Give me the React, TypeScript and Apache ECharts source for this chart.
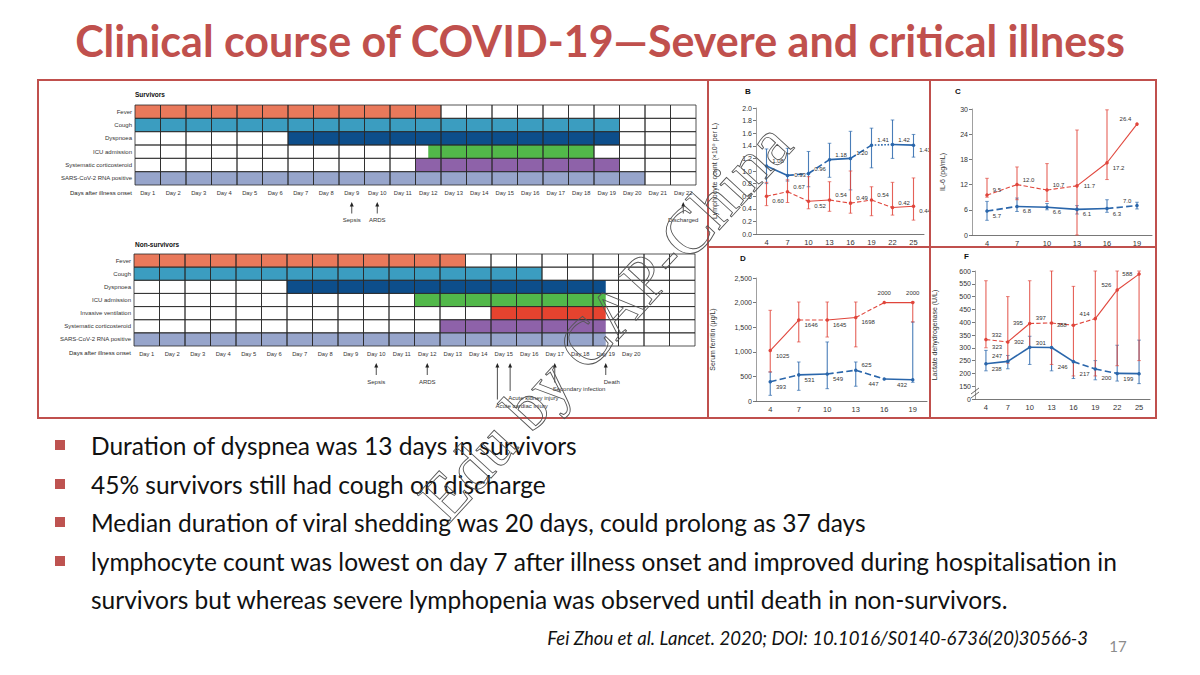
import React, { useEffect, useRef } from "react";
import * as echarts from "echarts";

// ---------------- Gantt data ----------------
const survivorRows = ["Fever", "Cough", "Dyspnoea", "ICU admission", "Systematic corticosteroid", "SARS-CoV-2 RNA positive"];
const survivorStart = [0, 0, 6, 11.5, 11, 0];
const survivorEnd = [12, 19, 19, 18, 19, 20];
const survivorDays = ["Day 1", "Day 2", "Day 3", "Day 4", "Day 5", "Day 6", "Day 7", "Day 8", "Day 9", "Day 10", "Day 11", "Day 12", "Day 13", "Day 14", "Day 15", "Day 16", "Day 17", "Day 18", "Day 19", "Day 20", "Day 21", "Day 22"];
const survivorEventLabels = ["Sepsis", "ARDS", "Discharged"];
const survivorEventDays = [9, 10, 22];

const nonSurvivorRows = ["Fever", "Cough", "Dyspnoea", "ICU admission", "Invasive ventilation", "Systematic corticosteroid", "SARS-CoV-2 RNA positive"];
const nonSurvivorStart = [0, 0, 6, 11, 14, 12, 0];
const nonSurvivorEnd = [13, 16, 18.5, 18.5, 18.5, 18.5, 18.5];
const nonSurvivorDays = ["Day 1", "Day 2", "Day 3", "Day 4", "Day 5", "Day 6", "Day 7", "Day 8", "Day 9", "Day 10", "Day 11", "Day 12", "Day 13", "Day 14", "Day 15", "Day 16", "Day 17", "Day 18", "Day 19", "Day 20", "", ""];
const nonSurvivorEventLabels = ["Sepsis", "ARDS", "Acute cardiac injury", "Acute kidney injury", "Secondary infection", "Death"];
const nonSurvivorEventDays = [10, 12, 14.75, 15.25, 17, 19];

// ---------------- Panel data ----------------
const lymphDays = ["4", "7", "10", "13", "16", "19", "22", "25"];
const lymphSurv = [1.08, 0.93, 0.96, 1.18, 1.2, 1.41, 1.42, 1.41];
const lymphSurvLow = [0.8, 0.84, 0.75, 0.9, 0.7, 1.05, 1.2, 1.22];
const lymphSurvHigh = [1.35, 1.36, 1.31, 1.44, 1.63, 1.68, 1.81, 1.58];
const lymphNon = [0.6, 0.67, 0.52, 0.54, 0.49, 0.54, 0.42, 0.44];
const lymphNonLow = [0.45, 0.5, 0.4, 0.36, 0.33, 0.29, 0.3, 0.22];
const lymphNonHigh = [0.82, 0.86, 0.91, 0.83, 1.0, 0.75, 0.82, 0.89];

const il6Days = ["4", "7", "10", "13", "16", "19"];
const il6Surv = [5.7, 6.8, 6.6, 6.1, 6.3, 7.0];
const il6SurvLow = [3.5, 5.6, 6.0, 5.0, 5.4, 6.2];
const il6SurvHigh = [8.0, 8.8, 7.5, 7.0, 8.4, 7.8];
const il6Non = [9.5, 12.0, 10.7, 11.7, 17.2, 26.4];
const il6NonLow = [9.0, 8.4, 8.0, 0, 13.2, null];
const il6NonHigh = [13.5, 16.2, 17.0, 25.0, 29.8, null];

const ferritinDays = ["4", "7", "10", "13", "16", "19"];
const ferritinSurv = [393, 531, 549, 625, 447, 432];
const ferritinSurvLow = [115, 217, 250, 300, null, 380];
const ferritinSurvHigh = [590, 793, 1200, 793, null, 1606];
const ferritinNon = [1025, 1646, 1645, 1698, 2000, 2000];
const ferritinNonLow = [590, 1200, 1300, 1100, null, 1606];
const ferritinNonHigh = [1843, 2012, 2012, 2012, null, 2012];

const ldhDays = ["4", "7", "10", "13", "16", "19", "22", "25"];
const ldhSurv = [238, 247, 302, 301, 246, 217, 200, 199];
const ldhSurvLow = [210, 218, 235, 210, 180, 175, 170, 160];
const ldhSurvHigh = [290, 270, 345, 300, 245, 250, 310, 330];
const ldhNon = [332, 323, 395, 397, 388, 414, 526, 588];
const ldhNonLow = [300, 240, 300, 235, 190, 190, 230, 250];
const ldhNonHigh = [562, 500, 562, 600, 540, 600, 600, 600];

// ---------------- Styles / layout (not data) ----------------
const rowColors: Record<string, string> = {
  "Fever": "#E9795B",
  "Cough": "#3B9DC0",
  "Dyspnoea": "#0D4E8B",
  "ICU admission": "#52B84A",
  "Invasive ventilation": "#E5432F",
  "Systematic corticosteroid": "#8E62A9",
  "SARS-CoV-2 RNA positive": "#97A5CB",
};
const survivorEventDepth = [18, 18, 18];
const survivorEventAlign = ["center", "center", "center"];
const nonSurvivorEventDepth = [18.5, 18.5, 43, 34.5, 26, 18.5];
const nonSurvivorEventAlign = ["center", "center", "left", "left", "left", "left"];

const BLUE = "#2A66AB";
const RED = "#E0453B";
const FRAME = "#C0504D";
const TXT = "'Liberation Sans', Arial, sans-serif";
const SLIDE = "Lato, 'Open Sans', sans-serif";

const lymphSurvSeg = ["solid", "dashed", "dashed", "solid", "dashed", "dotted", "solid"];
const lymphNonSeg = ["dashed", "dashed", "solid", "dashed", "dashed", "dashed", "solid"];
const lymphSurvLab = ["ru", "r", "ru", "ru", "ru", "ru", "ru", "rd"];
const lymphNonLab = ["rd", "ru", "rd", "ru", "ru", "ru", "ru", "rd"];
const il6SurvSeg = ["dashed", "solid", "solid", "solid", "dashed"];
const il6NonSeg = ["dashed", "dashed", "dashed", "solid", "solid"];
const il6SurvLab = ["rd", "rd", "rd", "rd", "rd", "lu"];
const il6NonLab = ["ru", "ru", "ru", "r", "rd", "lu"];
const ferSurvSeg = ["dashed", "solid", "dashed", "dashed", "solid"];
const ferNonSeg = ["solid", "dashed", "solid", "dashed", "solid"];
const ferSurvLab = ["rd", "rd", "rd", "ru", "ld", "ld"];
const ferNonLab = ["rd", "rd", "rd", "rd", "u", "u"];
const ldhSurvSeg = ["solid", "solid", "solid", "solid", "dashed", "dashed", "solid"];
const ldhNonSeg = ["dashed", "solid", "dashed", "dashed", "dashed", "solid", "solid"];
const ldhSurvLab = ["rd", "lu", "lu", "lu", "ld", "ld", "ld", "ld"];
const ldhNonLab = ["ru", "ld", "l", "lu", "l", "lu", "lu", "l"];

function labelPlace(code: string) {
  switch (code) {
    case "ru": return { position: "right", offset: [-1, -5] };
    case "rd": return { position: "right", offset: [-1, 5] };
    case "lu": return { position: "left", offset: [1, -5] };
    case "ld": return { position: "left", offset: [1, 5] };
    case "u": return { position: "top", offset: [0, 0] };
    case "d": return { position: "bottom", offset: [0, 0] };
    case "l": return { position: "left", offset: [0, 0] };
    default: return { position: "right", offset: [0, 0] };
  }
}

function ganttGeom(api: any) {
  const c0 = api.coord([0, 0]);
  const sz = api.size([1, 1]);
  return { x0: c0[0] - sz[0] / 2, y0: c0[1] - sz[1] / 2, w: sz[0], h: sz[1] };
}

function buildGantt(gi: number, rows: string[], starts: number[], ends: number[], days: string[],
  evDays: number[], evLabels: string[], evDepth: number[], evAlign: string[]) {
  const nCols = days.length;
  const bars = {
    type: "custom", xAxisIndex: gi, yAxisIndex: gi, z: 2, silent: true,
    data: rows.map((_, i) => [0, i]),
    renderItem: (params: any, api: any) => {
      const g = ganttGeom(api);
      const i = params.dataIndex;
      return {
        type: "rect",
        shape: { x: g.x0 + starts[i] * g.w, y: g.y0 + i * g.h, width: (ends[i] - starts[i]) * g.w, height: g.h },
        style: { fill: rowColors[rows[i]] },
      };
    },
  };
  const cells = {
    type: "custom", xAxisIndex: gi, yAxisIndex: gi, z: 3, silent: true,
    data: rows.map((_, i) => [0, i]),
    renderItem: (params: any, api: any) => {
      const g = ganttGeom(api);
      const i = params.dataIndex;
      const children: any[] = [];
      for (let k = 0; k < nCols; k++) {
        children.push({
          type: "rect",
          shape: { x: g.x0 + k * g.w, y: g.y0 + i * g.h, width: g.w, height: g.h },
          style: { fill: "none", stroke: "#2a2a2a", lineWidth: 0.8 },
        });
      }
      return { type: "group", children };
    },
  };
  const events = {
    type: "custom", xAxisIndex: gi, yAxisIndex: gi, z: 4, silent: true, clip: false,
    data: evDays.map(() => [0, 0]),
    renderItem: (params: any, api: any) => {
      const g = ganttGeom(api);
      const i = params.dataIndex;
      const xc = g.x0 + (evDays[i] - 0.5) * g.w;
      const bottom = g.y0 + rows.length * g.h;
      const tip = bottom + 17;
      const labelY = tip + evDepth[i];
      const tail = labelY - 6.5;
      const al = evAlign[i];
      return {
        type: "group",
        children: [
          { type: "line", shape: { x1: xc, y1: tip + 3, x2: xc, y2: tail }, style: { stroke: "#222", lineWidth: 0.8 } },
          { type: "polygon", shape: { points: [[xc, tip], [xc - 2, tip + 4.5], [xc + 2, tip + 4.5]] }, style: { fill: "#222" } },
          {
            type: "text", x: al === "left" ? xc - 2 : xc, y: labelY,
            style: { text: evLabels[i], fill: "#333", fontSize: 6, fontFamily: TXT, align: al, verticalAlign: "middle", textAlign: al, textVerticalAlign: "middle" },
          },
        ],
      };
    },
  };
  return [bars, cells, events];
}

function buildPanel(gi: number, groups: any[], fmt: (v: number) => string) {
  const out: any[] = [];
  groups.forEach((gr) => {
    const n = gr.values.length;
    out.push({
      type: "custom", xAxisIndex: gi, yAxisIndex: gi, z: 1, silent: true,
      encode: { x: 0, y: [1, 2] },
      data: gr.low.map((l: any, j: number) => [j, l, gr.high[j]]).filter((d: any) => d[1] != null && d[2] != null),
      renderItem: (params: any, api: any) => {
        const j = api.value(0);
        const p1 = api.coord([j, api.value(1)]);
        const p2 = api.coord([j, api.value(2)]);
        const cw = 1.8;
        return {
          type: "group",
          children: [
            { type: "line", shape: { x1: p1[0], y1: p1[1], x2: p2[0], y2: p2[1] }, style: { stroke: gr.color, lineWidth: 1.1, opacity: 0.85 } },
            { type: "line", shape: { x1: p1[0] - cw, y1: p1[1], x2: p1[0] + cw, y2: p1[1] }, style: { stroke: gr.color, lineWidth: 0.8, opacity: 0.85 } },
            { type: "line", shape: { x1: p2[0] - cw, y1: p2[1], x2: p2[0] + cw, y2: p2[1] }, style: { stroke: gr.color, lineWidth: 0.8, opacity: 0.85 } },
          ],
        };
      },
    });
    for (let i = 0; i < n - 1; i++) {
      out.push({
        type: "line", xAxisIndex: gi, yAxisIndex: gi, z: 2, silent: true, showSymbol: false, connectNulls: false,
        data: gr.values.map((v: number, j: number) => (j === i || j === i + 1 ? v : null)),
        lineStyle: { color: gr.color, width: gr.width, type: gr.seg[i] },
      });
    }
    out.push({
      type: "line", xAxisIndex: gi, yAxisIndex: gi, z: 3, silent: true,
      symbol: "circle", symbolSize: 3.5, itemStyle: { color: gr.color },
      lineStyle: { width: 0, opacity: 0 },
      data: gr.values.map((v: number, j: number) => ({ value: v, label: labelPlace(gr.lab[j]) })),
      label: { show: true, fontSize: 6, color: "#333", fontFamily: TXT, formatter: (p: any) => fmt(p.value) },
    });
  });
  return out;
}

function panelAxes(gi: number, cats: string[], min: number, max: number, interval: number, name: string, nameGap: number, labelFmt?: (v: number) => string) {
  const x = {
    type: "category", gridIndex: gi, data: cats, boundaryGap: true,
    axisLine: { lineStyle: { color: "#555", width: 0.8 } },
    axisTick: { alignWithLabel: true, length: 3, lineStyle: { color: "#555", width: 0.8 } },
    axisLabel: { fontSize: 7.5, color: "#333", margin: 4, fontFamily: TXT },
  };
  const y = {
    type: "value", gridIndex: gi, min, max, interval,
    axisLine: { show: true, lineStyle: { color: "#777", width: 0.7 } },
    axisTick: { show: true, length: 3, lineStyle: { color: "#555", width: 0.8 } },
    splitLine: { show: false },
    axisLabel: { fontSize: 7, color: "#333", margin: 4, fontFamily: TXT, formatter: labelFmt },
    name, nameLocation: "middle", nameGap, nameRotate: 90,
    nameTextStyle: { fontSize: 7, color: "#333", fontFamily: TXT },
  };
  return { x, y };
}

function ganttAxes(gi: number, rows: string[], days: string[]) {
  const x = {
    type: "category", gridIndex: gi, data: days, boundaryGap: true,
    axisLine: { show: false }, axisTick: { show: false },
    axisLabel: { fontSize: 5.8, color: "#333", margin: 5, interval: 0, fontFamily: TXT },
  };
  const y = {
    type: "category", gridIndex: gi, data: rows, inverse: true,
    axisLine: { show: false }, axisTick: { show: false },
    axisLabel: { fontSize: 6, color: "#333", margin: 3, fontFamily: TXT },
  };
  return { x, y };
}

const bullets = [
  "Duration of dyspnea was 13 days in survivors",
  "45% survivors still had cough on discharge",
  "Median duration of viral shedding was 20 days, could prolong as 37 days",
  "lymphocyte count was lowest on day 7 after illness onset and improved during hospitalisation in",
];
const bulletContinuation = "survivors but whereas severe lymphopenia was observed until death in non-survivors.";

export default function App() {
  const ref = useRef<HTMLDivElement>(null);
  useEffect(() => {
    if (!ref.current) return;
    const chart = echarts.init(ref.current, undefined, { renderer: "svg" });

    const gS = ganttAxes(0, survivorRows, survivorDays);
    const gN = ganttAxes(1, nonSurvivorRows, nonSurvivorDays);
    const pB = panelAxes(2, lymphDays, 0, 2, 0.2, "Lymphocyte count (×10⁹ per L)", 38, (v) => v.toFixed(1));
    const pC = panelAxes(3, il6Days, 0, 30, 6, "IL-6 (pg/mL)", 26);
    const pD = panelAxes(4, ferritinDays, 0, 2500, 500, "Serum ferritin (μg/L)", 40);
    const pF = panelAxes(5, ldhDays, 100, 600, 50, "Lactate dehydrogenase (U/L)", 37, (v) => (v === 100 ? "0" : String(v)));

    const series: any[] = [
      ...buildGantt(0, survivorRows, survivorStart, survivorEnd, survivorDays, survivorEventDays, survivorEventLabels, survivorEventDepth, survivorEventAlign),
      ...buildGantt(1, nonSurvivorRows, nonSurvivorStart, nonSurvivorEnd, nonSurvivorDays, nonSurvivorEventDays, nonSurvivorEventLabels, nonSurvivorEventDepth, nonSurvivorEventAlign),
      ...buildPanel(2, [
        { values: lymphSurv, low: lymphSurvLow, high: lymphSurvHigh, seg: lymphSurvSeg, lab: lymphSurvLab, color: BLUE, width: 1.6 },
        { values: lymphNon, low: lymphNonLow, high: lymphNonHigh, seg: lymphNonSeg, lab: lymphNonLab, color: RED, width: 1.1 },
      ], (v) => v.toFixed(2)),
      ...buildPanel(3, [
        { values: il6Surv, low: il6SurvLow, high: il6SurvHigh, seg: il6SurvSeg, lab: il6SurvLab, color: BLUE, width: 1.6 },
        { values: il6Non, low: il6NonLow, high: il6NonHigh, seg: il6NonSeg, lab: il6NonLab, color: RED, width: 1.1 },
      ], (v) => v.toFixed(1)),
      ...buildPanel(4, [
        { values: ferritinSurv, low: ferritinSurvLow, high: ferritinSurvHigh, seg: ferSurvSeg, lab: ferSurvLab, color: BLUE, width: 1.6 },
        { values: ferritinNon, low: ferritinNonLow, high: ferritinNonHigh, seg: ferNonSeg, lab: ferNonLab, color: RED, width: 1.1 },
      ], (v) => String(v)),
      ...buildPanel(5, [
        { values: ldhSurv, low: ldhSurvLow, high: ldhSurvHigh, seg: ldhSurvSeg, lab: ldhSurvLab, color: BLUE, width: 1.6 },
        { values: ldhNon, low: ldhNonLow, high: ldhNonHigh, seg: ldhNonSeg, lab: ldhNonLab, color: RED, width: 1.1 },
      ], (v) => String(v)),
    ];

    const txt = (text: string, x: number, y: number, extra: any = {}, el: any = {}) => ({
      type: "text", x, y, z: 50, silent: true, ...el,
      style: { text, fill: "#111", fontSize: 7, fontFamily: TXT, align: "left", verticalAlign: "middle", textAlign: "left", textVerticalAlign: "middle", ...extra },
    });

    const graphic: any[] = [
      // title
      txt("Clinical course of COVID-19—Severe and critical illness", 600, 40,
        { fill: FRAME, fontSize: 43, fontWeight: "bold", fontFamily: SLIDE, align: "center", textAlign: "center" }),
      // frame
      { type: "rect", z: 40, silent: true, shape: { x: 38, y: 80, width: 1118, height: 338 }, style: { fill: "none", stroke: FRAME, lineWidth: 2 } },
      { type: "line", z: 40, silent: true, shape: { x1: 708, y1: 80, x2: 708, y2: 418 }, style: { stroke: FRAME, lineWidth: 2 } },
      { type: "line", z: 40, silent: true, shape: { x1: 930, y1: 80, x2: 930, y2: 418 }, style: { stroke: FRAME, lineWidth: 2 } },
      { type: "line", z: 40, silent: true, shape: { x1: 708, y1: 247, x2: 1156, y2: 247 }, style: { stroke: FRAME, lineWidth: 2 } },
      // gantt headers
      txt("Survivors", 135, 94, { fontWeight: "bold", fontSize: 6.5 }),
      txt("Non-survivors", 135, 244, { fontWeight: "bold", fontSize: 6.5 }),
      txt("Days after illness onset", 132, 193, { fontSize: 6, align: "right", textAlign: "right", fill: "#222" }),
      txt("Days after illness onset", 131, 353, { fontSize: 6, align: "right", textAlign: "right", fill: "#222" }),
      // panel letters
      txt("B", 745, 91, { fontWeight: "bold", fontSize: 8 }),
      txt("C", 955, 91, { fontWeight: "bold", fontSize: 8 }),
      txt("D", 740, 258, { fontWeight: "bold", fontSize: 8 }),
      txt("F", 964, 256, { fontWeight: "bold", fontSize: 8 }),
      // axis break marks on F
      { type: "line", z: 45, silent: true, shape: { x1: 971, y1: 394, x2: 979, y2: 388 }, style: { stroke: "#444", lineWidth: 0.8 } },
      { type: "line", z: 45, silent: true, shape: { x1: 971, y1: 398, x2: 979, y2: 392 }, style: { stroke: "#444", lineWidth: 0.8 } },
      // citation and page number
      txt("Fei Zhou et al. Lancet. 2020; DOI: 10.1016/S0140-6736(20)30566-3", 1088, 638,
        { fontSize: 18.5, fontStyle: "italic", fontFamily: SLIDE, align: "right", textAlign: "right", fill: "#111" }),
      txt("17", 1118, 646, { fontSize: 15, fontFamily: SLIDE, align: "center", textAlign: "center", fill: "#8C8C8C" }),
    ];
    const lineYs = [445, 484, 522, 561];
    bullets.forEach((b, i) => {
      graphic.push({ type: "rect", z: 50, silent: true, shape: { x: 55, y: lineYs[i] - 5, width: 10, height: 10 }, style: { fill: "#BE5350" } });
      graphic.push(txt(b, 91, lineYs[i], { fontSize: 24.5, fontFamily: SLIDE, fill: "#111" }));
    });
    graphic.push(txt(bulletContinuation, 91, 599, { fontSize: 24.5, fontFamily: SLIDE, fill: "#111" }));
    // watermark
    graphic.push({
      type: "text", x: 605, y: 321, rotation: (47.4 * Math.PI) / 180, z: 60, silent: true,
      style: {
        text: "Edu by CAP-China", fill: "rgba(255,255,255,0)", stroke: "#555", lineWidth: 0.9,
        fontSize: 66, fontFamily: "'Liberation Serif', 'DejaVu Serif', serif",
        align: "center", verticalAlign: "middle", textAlign: "center", textVerticalAlign: "middle",
      },
    });

    chart.setOption({
      animation: false,
      backgroundColor: "#ffffff",
      grid: [
        { left: 135, top: 105, width: 561, height: 80 },
        { left: 134, top: 254, width: 561, height: 92 },
        { left: 756, top: 108, width: 168, height: 126 },
        { left: 972, top: 109, width: 180, height: 126 },
        { left: 756, top: 278, width: 171, height: 123 },
        { left: 975, top: 271, width: 175, height: 128 },
      ],
      xAxis: [gS.x, gN.x, pB.x, pC.x, pD.x, pF.x],
      yAxis: [gS.y, gN.y, pB.y, pC.y, pD.y, pF.y],
      series,
      graphic,
    });
    return () => chart.dispose();
  }, []);
  return <div ref={ref} style={{ position: "absolute", left: 0, top: 0, width: 1200, height: 675, background: "#fff" }} />;
}
